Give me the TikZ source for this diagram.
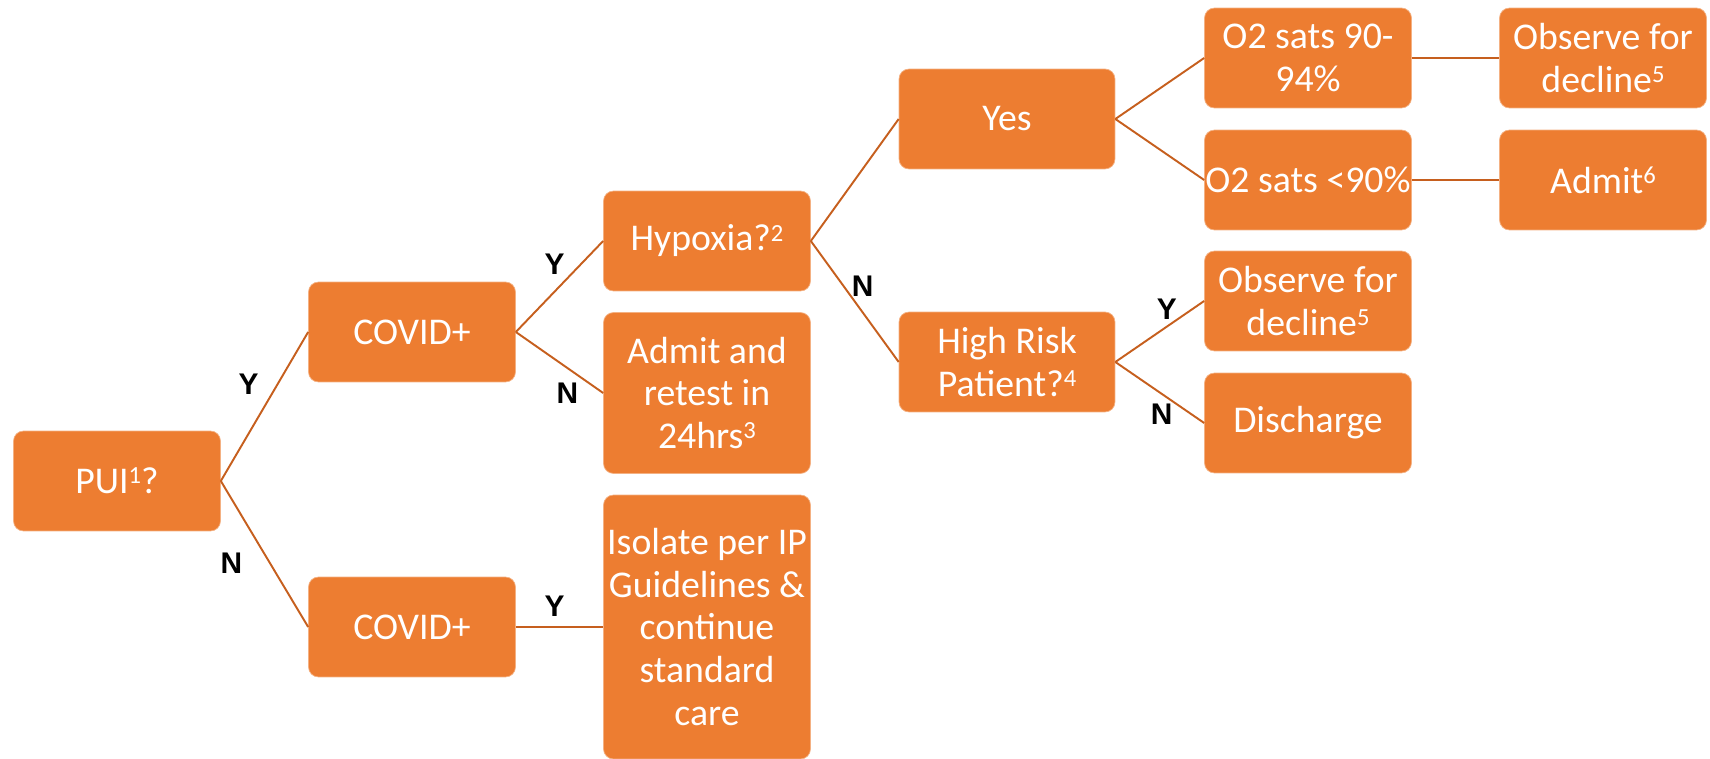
\documentclass[tikz,border=0pt]{standalone}
\usepackage{fontspec}
\setmainfont{Carlito}
\newfontfamily\ynfont{Liberation Sans}
\definecolor{boxfill}{HTML}{ED7D31}
\definecolor{linkcol}{HTML}{C65F1E}
\newcommand{\supnum}[1]{\raisebox{0.55ex}{\fontsize{14}{14}\selectfont #1}}
\tikzset{
  box/.style={draw=boxfill!60!white, line width=0.4pt, fill=boxfill, rounded corners=0.2cm,
    text=white, align=center, minimum width=4.14cm, minimum height=2cm, inner sep=0pt,
    font=\fontsize{21.5}{24.4}\selectfont},
  link/.style={draw=linkcol, line width=1.1pt},
  yn/.style={font=\ynfont\bfseries\fontsize{17}{17}\selectfont, text=black, inner sep=0pt},
}
\begin{document}
\begin{tikzpicture}[x=0.02cm, y=-0.02cm]
\useasboundingbox (0,0) rectangle (1710,759);
\node[box] (pui) at (117,481) {PUI\supnum{1}?};
\node[box] (covA) at (412,332) {COVID+};
\node[box] (covB) at (412,627) {COVID+};
\node[box] (hyp) at (707,241) {Hypoxia?\supnum{2}};
\node[box, minimum height=3.22cm] (admit) at (707,393) {Admit and\\retest in\\24hrs\supnum{3}};
\node[box, minimum height=5.28cm] (iso) at (707,627) {Isolate per IP\\Guidelines \&\\continue\\standard\\care};
\node[box, minimum width=4.32cm] (yes) at (1007,119) {Yes};
\node[box, minimum width=4.32cm] (risk) at (1007,362) {High Risk\\Patient?\supnum{4}};
\node[box] (satA) at (1308,58) {O2 sats 90-\\94\%};
\node[box] (satB) at (1308,180) {O2 sats <90\%};
\node[box] (obsA) at (1603,58) {Observe for\\decline\supnum{5}};
\node[box] (admitB) at (1603,180) {Admit\supnum{6}};
\node[box] (obsB) at (1308,301) {Observe for\\decline\supnum{5}};
\node[box] (dis) at (1308,423) {Discharge};

\draw[link] (pui.east) -- (covA.west) node[yn, midway, shift={(-16,-22)}] {Y};
\draw[link] (pui.east) -- (covB.west) node[yn, midway, shift={(-33,9)}] {N};
\draw[link] (covA.east) -- (hyp.west) node[yn, midway, shift={(-5,-22)}] {Y};
\draw[link] (covA.east) -- (admit.west) node[yn, midway, shift={(8,31)}] {N};
\draw[link] (covB.east) -- (iso.west) node[yn, midway, shift={(-5,-21)}] {Y};
\draw[link] (hyp.east) -- (yes.west);
\draw[link] (hyp.east) -- (risk.west) node[yn, midway, shift={(8,-15)}] {N};
\draw[link] (yes.east) -- (satA.west);
\draw[link] (yes.east) -- (satB.west);
\draw[link] (satA.east) -- (obsA.west);
\draw[link] (satB.east) -- (admitB.west);
\draw[link] (risk.east) -- (obsB.west) node[yn, midway, shift={(7,-22)}] {Y};
\draw[link] (risk.east) -- (dis.west) node[yn, midway, shift={(2,22)}] {N};
\end{tikzpicture}
\end{document}
